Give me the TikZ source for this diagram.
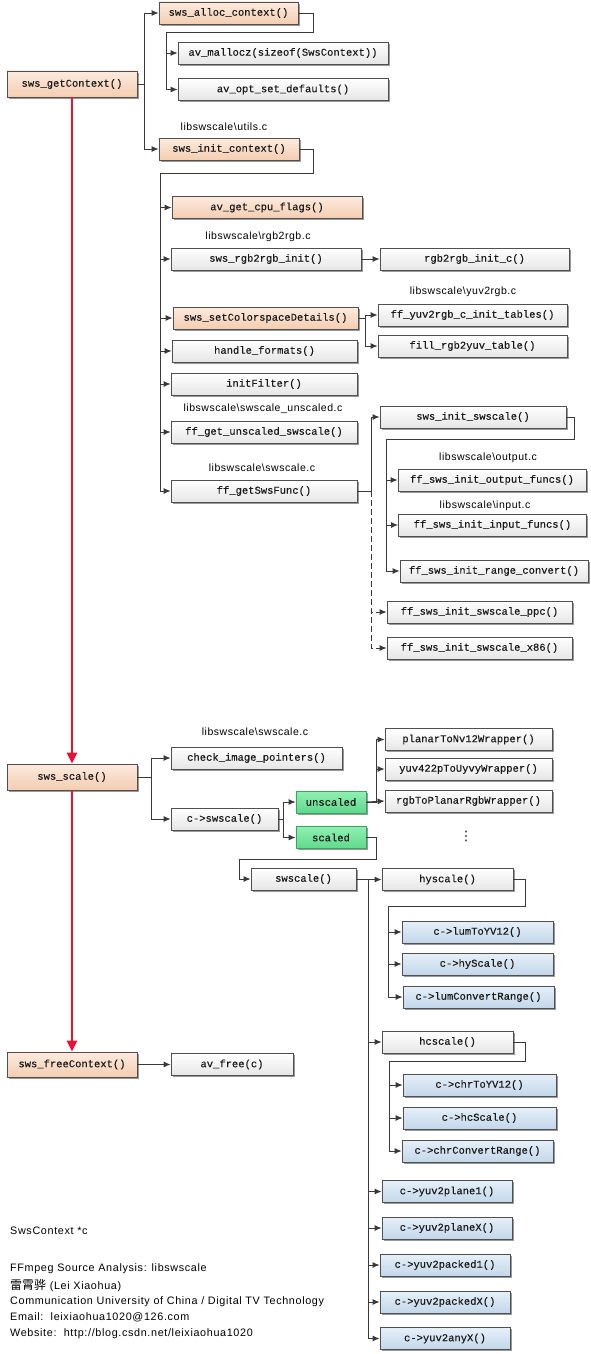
\documentclass[tikz,border=0pt]{standalone}
\usepackage{fontspec}
\setmainfont{Liberation Sans}
\newfontfamily\boxfont[RawFeature={embolden=0.3}]{Liberation Mono}
\newfontfamily\lblfont[LetterSpace=5]{Liberation Sans}
\newfontfamily\notefont[LetterSpace=6]{Liberation Sans}
\newfontfamily\cjkfont{Noto Sans CJK SC}
\newfontfamily\symfont{DejaVu Sans}
\usetikzlibrary{arrows.meta,shadows,calc}
\definecolor{lineC}{HTML}{3A3A3A}
\definecolor{borderC}{HTML}{505050}
\definecolor{textC}{HTML}{1A1A1A}
\definecolor{whiteTop}{HTML}{FFFFFF}
\definecolor{whiteBot}{HTML}{E6E6E6}
\definecolor{peachTop}{HTML}{FDEBDF}
\definecolor{peachBot}{HTML}{F4CDB1}
\definecolor{blueTop}{HTML}{E6F0F9}
\definecolor{blueBot}{HTML}{C3D7EA}
\definecolor{greenTop}{HTML}{90F0B2}
\definecolor{greenBot}{HTML}{5FD98C}
\definecolor{greenBorder}{HTML}{3BA35F}
\definecolor{redC}{HTML}{EE1030}
\tikzset{
  fbox/.style={draw=borderC, line width=0.8pt, inner sep=0pt, minimum height=22pt,
    font=\boxfont\fontsize{10.5}{12}\selectfont, text=textC,
    drop shadow={shadow xshift=1.8pt, shadow yshift=-1.8pt, fill=black, opacity=0.4}},
  whitebox/.style={fbox, top color=whiteTop, bottom color=whiteBot},
  peachbox/.style={fbox, top color=peachTop, bottom color=peachBot},
  bluebox/.style={fbox, top color=blueTop, bottom color=blueBot},
  greenbox/.style={fbox, draw=greenBorder, top color=greenTop, bottom color=greenBot},
  lbl/.style={font=\lblfont\fontsize{10.5}{12}\selectfont, inner sep=0pt, text=black},
  note/.style={font=\notefont\fontsize{10.8}{12}\selectfont, inner sep=0pt, text=black, anchor=west},
  conn/.style={draw=lineC, line width=0.9pt, -{Latex[length=7pt,width=6pt]}},
  plainline/.style={draw=lineC, line width=0.9pt},
  redarrow/.style={draw=redC, line width=2.6pt, -{Triangle[length=11pt,width=10pt]}},
}
\begin{document}
\begin{tikzpicture}[x=1pt,y=-1pt]
\useasboundingbox (0,0) rectangle (590,1354);
\fill[white] (0,0) rectangle (590,1354);

% ---------- sws_getContext ----------
\node[peachbox,minimum width=130pt,minimum height=26pt] (getctx) at (72,84) {sws\_getContext()};
\node[peachbox,minimum width=139pt] (alloc) at (228.5,13) {sws\_alloc\_context()};
\node[whitebox,minimum width=210pt] (malloc) at (283,53) {av\_mallocz(sizeof(SwsContext))};
\node[whitebox,minimum width=210pt] (optdef) at (283,89.5) {av\_opt\_set\_defaults()};
\node[lbl] (lutils) at (224,127) {libswscale\textbackslash utils.c};
\node[peachbox,minimum width=140pt] (initctx) at (229,149) {sws\_init\_context()};
\node[peachbox,minimum width=190pt] (cpuflags) at (267,207.5) {av\_get\_cpu\_flags()};
\node[lbl] (lrgb) at (258,237) {libswscale\textbackslash rgb2rgb.c};
\node[whitebox,minimum width=190pt] (rgbinit) at (266,259) {sws\_rgb2rgb\_init()};
\node[whitebox,minimum width=189pt] (rgbc) at (474.5,259) {rgb2rgb\_init\_c()};
\node[lbl] (lyuv) at (463,292) {libswscale\textbackslash yuv2rgb.c};
\node[peachbox,minimum width=185pt] (colorsp) at (265.5,318) {sws\_setColorspaceDetails()};
\node[whitebox,minimum width=189pt] (yuvtab) at (472.5,315) {ff\_yuv2rgb\_c\_init\_tables()};
\node[whitebox,minimum width=189pt] (fillrgb) at (472.5,346) {fill\_rgb2yuv\_table()};
\node[whitebox,minimum width=185pt] (handle) at (264.5,351) {handle\_formats()};
\node[whitebox,minimum width=186pt] (initfilt) at (264,384) {initFilter()};
\node[lbl] (lunsc) at (263,409) {libswscale\textbackslash swscale\_unscaled.c};
\node[whitebox,minimum width=186pt] (unscfn) at (264,432) {ff\_get\_unscaled\_swscale()};
\node[lbl] (lswsc) at (262,468) {libswscale\textbackslash swscale.c};
\node[whitebox,minimum width=186pt] (getsws) at (264,491) {ff\_getSwsFunc()};
\node[whitebox,minimum width=186pt] (initsws) at (473,417) {sws\_init\_swscale()};
\node[lbl] (lout) at (488,458) {libswscale\textbackslash output.c};
\node[whitebox,minimum width=188pt] (outfn) at (492,480) {ff\_sws\_init\_output\_funcs()};
\node[lbl] (linp) at (485,506) {libswscale\textbackslash input.c};
\node[whitebox,minimum width=188pt] (inpfn) at (492.5,525) {ff\_sws\_init\_input\_funcs()};
\node[whitebox,minimum width=188pt] (rangec) at (494,571) {ff\_sws\_init\_range\_convert()};
\node[whitebox,minimum width=185pt] (ppc) at (479.5,612) {ff\_sws\_init\_swscale\_ppc()};
\node[whitebox,minimum width=185pt] (x86) at (479.5,648) {ff\_sws\_init\_swscale\_x86()};

% ---------- sws_scale ----------
\node[lbl] (lsc2) at (255,732) {libswscale\textbackslash swscale.c};
\node[peachbox,minimum width=130pt,minimum height=26pt] (swsscale) at (72,777) {sws\_scale()};
\node[whitebox,minimum width=171pt] (checkimg) at (256.5,758) {check\_image\_pointers()};
\node[whitebox,minimum width=107pt] (cswsc) at (224.5,819) {c->swscale()};
\node[greenbox,minimum width=70pt] (unsc) at (331,802) {unscaled};
\node[greenbox,minimum width=70pt] (scal) at (331,837.5) {scaled};
\node[whitebox,minimum width=167pt] (planar) at (468.5,739.5) {planarToNv12Wrapper()};
\node[whitebox,minimum width=167pt] (yuv422) at (468.5,769) {yuv422pToUyvyWrapper()};
\node[whitebox,minimum width=167pt] (rgbpl) at (468.5,801) {rgbToPlanarRgbWrapper()};
\node[inner sep=0pt,font=\symfont\fontsize{13}{13}\selectfont] (dots) at (466,836) {⋮};
\node[whitebox,minimum width=105pt] (swscale) at (303.5,879) {swscale()};
\node[whitebox,minimum width=131pt] (hys) at (447.5,879.5) {hyscale()};
\node[bluebox,minimum width=151pt] (lumyv) at (477.5,932) {c->lumToYV12()};
\node[bluebox,minimum width=151pt] (hysc) at (477.5,964) {c->hyScale()};
\node[bluebox,minimum width=151pt] (lumcr) at (478.5,997) {c->lumConvertRange()};
\node[whitebox,minimum width=131pt] (hcs) at (447.5,1042) {hcscale()};
\node[bluebox,minimum width=153pt] (chryv) at (479.5,1085) {c->chrToYV12()};
\node[bluebox,minimum width=153pt] (hcsc) at (479.5,1118) {c->hcScale()};
\node[bluebox,minimum width=151pt] (chrcr) at (477.5,1151) {c->chrConvertRange()};
\node[bluebox,minimum width=130pt] (p1) at (447,1191.5) {c->yuv2plane1()};
\node[bluebox,minimum width=130pt] (pX) at (447,1228) {c->yuv2planeX()};
\node[bluebox,minimum width=130pt] (k1) at (445,1265) {c->yuv2packed1()};
\node[bluebox,minimum width=130pt] (kX) at (445,1302) {c->yuv2packedX()};
\node[bluebox,minimum width=130pt] (aX) at (445,1338.5) {c->yuv2anyX()};

% ---------- sws_freeContext ----------
\node[peachbox,minimum width=130pt,minimum height=25pt] (freectx) at (72,1064.5) {sws\_freeContext()};
\node[whitebox,minimum width=122pt] (avfree) at (232,1064.5) {av\_free(c)};

% ---------- notes ----------
\node[note] (n0) at (10,1231) {SwsContext *c};
\node[note] (n1) at (10,1268.5) {FFmpeg Source Analysis: libswscale};
\node[note] (n2) at (10,1285.5) {{\cjkfont\fontsize{12}{12}\selectfont 雷霄骅} (Lei Xiaohua)};
\node[note] (n3) at (10,1302) {Communication University of China / Digital TV Technology};
\node[note] (n4) at (10,1317.5) {Email:\ \ leixiaohua1020@126.com};
\node[note] (n5) at (10,1333.5) {Website:\ \ http://blog.csdn.net/leixiaohua1020};

% ---------- connectors: getContext ----------
\draw[conn] (getctx.east) -- ++(7,0) |- (alloc.west);
\draw[conn] (getctx.east) -- ++(7,0) |- (initctx.west);
\coordinate (a1) at (166,32);
\draw[conn] (alloc.east) -- ++(15,0) |- (a1) |- (malloc.west);
\draw[conn] (a1) |- (optdef.west);
\coordinate (b1) at (160,173);
\draw[conn] (initctx.east) -- ++(14,0) |- (b1) |- (cpuflags.west);
\draw[conn] (b1) |- (rgbinit.west);
\draw[conn] (b1) |- (colorsp.west);
\draw[conn] (b1) |- (handle.west);
\draw[conn] (b1) |- (initfilt.west);
\draw[conn] (b1) |- (unscfn.west);
\draw[conn] (b1) |- (getsws.west);
\draw[conn] (rgbinit.east) -- (rgbc.west);
\draw[conn] (colorsp.east) -- ++(7,0) |- (yuvtab.west);
\draw[conn] (colorsp.east) -- ++(7,0) |- (fillrgb.west);
\draw[conn] (getsws.east) -- ++(14,0) |- (initsws.west);
\draw[conn,dashed,dash pattern=on 6pt off 3pt] (getsws.east) ++(14,0) |- (ppc.west);
\draw[conn,dashed,dash pattern=on 6pt off 3pt] (getsws.east) ++(14,0) |- (x86.west);
\coordinate (c1) at (386,439);
\draw[conn] (initsws.east) -- ++(8,0) |- (c1) |- (outfn.west);
\draw[conn] (c1) |- (inpfn.west);
\draw[conn] (c1) |- (rangec.west);

% ---------- connectors: sws_scale ----------
\draw[conn] (swsscale.east) -- ++(14,0) |- (checkimg.west);
\draw[conn] (swsscale.east) -- ++(14,0) |- (cswsc.west);
\draw[conn] (cswsc.east) -- ++(5,0) |- (unsc.west);
\draw[conn] (cswsc.east) -- ++(5,0) |- (scal.west);
\draw[conn] (unsc.east) -- ++(10,0) |- (planar.west);
\draw[conn] (unsc.east) -- ++(10,0) |- (yuv422.west);
\draw[conn] (unsc.east) -- (rgbpl.west);
\coordinate (d1) at (239,859);
\draw[conn] (scal.east) -- ++(10,0) |- (d1) |- (swscale.west);
\coordinate (s1) at (368,879);
\draw[plainline] (swscale.east) -- (s1);
\draw[conn] (s1) |- (hys.west);
\draw[conn] (s1) |- (hcs.west);
\draw[conn] (s1) |- (p1.west);
\draw[conn] (s1) |- (pX.west);
\draw[conn] (s1) |- (k1.west);
\draw[conn] (s1) |- (kX.west);
\draw[conn] (s1) |- (aX.west);
\coordinate (e1) at (388,906);
\draw[conn] (hys.east) -- ++(12,0) |- (e1) |- (lumyv.west);
\draw[conn] (e1) |- (hysc.west);
\draw[conn] (e1) |- (lumcr.west);
\coordinate (f1) at (389,1061);
\draw[conn] (hcs.east) -- ++(12,0) |- (f1) |- (chryv.west);
\draw[conn] (f1) |- (hcsc.west);
\draw[conn] (f1) |- (chrcr.west);

% ---------- freeContext ----------
\draw[conn] (freectx.east) -- (avfree.west);

% ---------- red flow ----------
\draw[redarrow] (getctx.south) -- (swsscale.north);
\draw[redarrow] (swsscale.south) -- (freectx.north);
\end{tikzpicture}
\end{document}
